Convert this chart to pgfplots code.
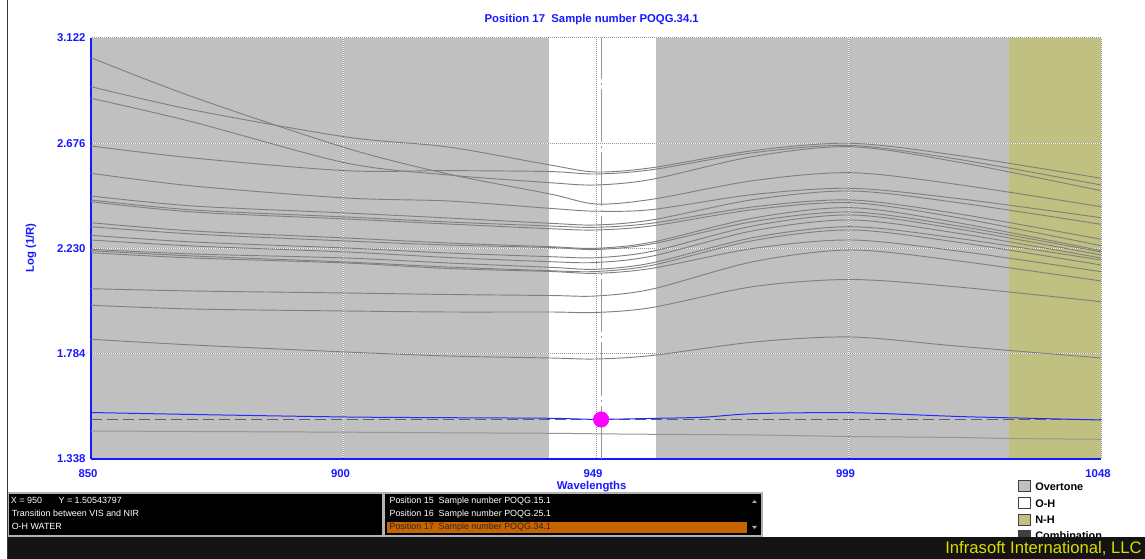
\documentclass[border=0pt]{standalone}
\usepackage{pgfplots}
\pgfplotsset{compat=1.18}
\usepackage{fontspec}
\setmainfont{Liberation Sans}
\definecolor{ovgray}{RGB}{192,192,192}
\definecolor{nhkhaki}{RGB}{192,192,128}
\definecolor{curvegray}{RGB}{128,128,128}
\definecolor{lightcurve}{RGB}{150,150,150}
\definecolor{gridgray}{RGB}{150,150,150}
\definecolor{uiblue}{RGB}{24,24,255}
\definecolor{selblue}{RGB}{40,40,255}
\definecolor{panelorange}{RGB}{200,100,0}
\definecolor{barblack}{RGB}{20,20,20}
\definecolor{infyellow}{RGB}{220,220,0}
\definecolor{combdark}{RGB}{64,64,64}
\definecolor{framedark}{RGB}{60,56,52}
\definecolor{cursorgray}{RGB}{96,96,96}
\definecolor{dotmagenta}{RGB}{255,0,255}
\newcommand\blab{\bfseries\fontsize{8.5}{10}\selectfont}
\newcommand\stxt{\fontsize{6.7}{8}\selectfont}
\begin{document}
\begin{tikzpicture}
\begin{axis}[
  at={(68.25pt,75pt)}, anchor=south west,
  scale only axis, width=757.5pt, height=315.75pt,
  xmin=850, xmax=1048, ymin=1.338, ymax=3.122,
  set layers,
  axis x line*=bottom, axis y line*=left,
  axis line style={uiblue, line width=0.9pt, -},
  xtick={850,899.5,949,998.5,1048}, xticklabels={850,900,949,999,1048},
  ytick={1.338,1.784,2.230,2.676,3.122}, yticklabels={1.338,1.784,2.230,2.676,3.122},
  major tick length=0pt,
  tick label style={font=\blab, text=uiblue},
  xticklabel style={anchor=center, yshift=-11.25pt, xshift=-2.25pt},
  yticklabel style={anchor=east, inner sep=0pt, xshift=-4pt},
  grid=major,
  major grid style={white, line width=0.75pt, dash pattern=on 0.75pt off 0.75pt,
     postaction={draw=gridgray, dash pattern=on 0.75pt off 0.75pt, dash phase=0.75pt}},
  spec/.style={curvegray, line width=0.7pt, smooth, mark=none},
]
% spectral regions
\addplot[draw=none, fill=ovgray, on layer=axis background] coordinates {(850,3.122) (939.8,3.122)} \closedcycle;
\addplot[draw=none, fill=white, on layer=axis background] coordinates {(939.8,3.122) (960.8,3.122)} \closedcycle;
\addplot[draw=none, fill=ovgray, on layer=axis background] coordinates {(960.8,3.122) (1030,3.122)} \closedcycle;
\addplot[draw=none, fill=nhkhaki, on layer=axis background] coordinates {(1030,3.122) (1048,3.122)} \closedcycle;
% spectra
\addplot[spec] coordinates {(850,3.0385)(870,2.872)(900,2.6559)(920,2.5457)(940,2.4609)(949,2.4186)(960,2.4385)(980,2.5181)(999,2.5512)(1020,2.5008)(1048,2.4071)};
\addplot[spec] coordinates {(850,2.9156)(870,2.8169)(900,2.7025)(920,2.6601)(940,2.5838)(949,2.5542)(960,2.5724)(980,2.6453)(999,2.6758)(1020,2.6241)(1048,2.5275)};
\addplot[spec] coordinates {(850,2.8665)(870,2.7660)(900,2.5923)(920,2.5415)(940,2.5088)(949,2.4991)(960,2.5232)(980,2.6207)(999,2.6614)(1020,2.5961)(1048,2.4749)};
\addplot[spec] coordinates {(850,2.6643)(870,2.6135)(900,2.5597)(920,2.5600)(940,2.5560)(949,2.5457)(960,2.5639)(980,2.6364)(999,2.6665)(1020,2.6080)(1048,2.4991)};
\addplot[spec] coordinates {(850,2.5487)(870,2.4948)(900,2.4440)(920,2.4313)(940,2.4000)(949,2.3880)(960,2.3950)(980,2.4592)(999,2.4851)(1020,2.4415)(1048,2.3605)};
\addplot[spec] coordinates {(850,2.4525)(870,2.4101)(900,2.3804)(920,2.3592)(940,2.3368)(949,2.3296)(960,2.3512)(980,2.4376)(999,2.4737)(1020,2.4241)(1048,2.3325)};
\addplot[spec] coordinates {(850,2.4355)(870,2.3931)(900,2.3635)(920,2.3423)(940,2.3253)(949,2.3198)(960,2.3372)(980,2.4067)(999,2.4355)(1020,2.3770)(1048,2.2690)};
\addplot[spec] coordinates {(850,2.4283)(870,2.3847)(900,2.3550)(920,2.3338)(940,2.3139)(949,2.3084)(960,2.3258)(980,2.3953)(999,2.4241)(1020,2.3605)(1048,2.2419)};
\addplot[spec] coordinates {(850,2.3393)(870,2.3042)(900,2.2745)(920,2.2533)(940,2.2376)(949,2.2308)(960,2.2567)(980,2.3597)(999,2.4029)(1020,2.3389)(1048,2.2207)};
\addplot[spec] coordinates {(850,2.3224)(870,2.2914)(900,2.2618)(920,2.2448)(940,2.2342)(949,2.2258)(960,2.2495)(980,2.3448)(999,2.3847)(1020,2.3253)(1048,2.2152)};
\addplot[spec] coordinates {(850,2.2859)(870,2.2575)(900,2.2321)(920,2.2109)(940,2.1953)(949,2.1910)(960,2.2181)(980,2.3266)(999,2.3720)(1020,2.3126)(1048,2.2025)};
\addplot[spec] coordinates {(850,2.2660)(870,2.2406)(900,2.2152)(920,2.1919)(940,2.1741)(949,2.1707)(960,2.1978)(980,2.3059)(999,2.3508)(1020,2.2944)(1048,2.1897)};
\addplot[spec] coordinates {(850,2.2266)(870,2.2067)(900,2.1897)(920,2.1686)(940,2.1503)(949,2.1419)(960,2.1690)(980,2.2770)(999,2.3224)(1020,2.2728)(1048,2.1813)};
\addplot[spec] coordinates {(850,2.2207)(870,2.1982)(900,2.1728)(920,2.1516)(940,2.1359)(949,2.1325)(960,2.1588)(980,2.2643)(999,2.3084)(1020,2.2563)(1048,2.1601)};
\addplot[spec] coordinates {(850,2.2122)(870,2.1897)(900,2.1686)(920,2.1452)(940,2.1325)(949,2.1249)(960,2.1461)(980,2.2308)(999,2.2660)(1020,2.2190)(1048,2.1317)};
\addplot[spec] coordinates {(850,2.0596)(870,2.0499)(900,2.0414)(920,2.0351)(940,2.0308)(949,2.0287)(960,2.0580)(980,2.1749)(999,2.2236)(1020,2.1774)(1048,2.0923)};
\addplot[spec] coordinates {(850,1.9893)(870,1.9736)(900,1.9651)(920,1.9609)(940,1.9609)(949,1.9588)(960,1.9800)(980,2.0690)(999,2.0986)(1020,2.0668)(1048,2.0046)};
\addplot[spec] coordinates {(850,1.8452)(870,1.8211)(900,1.7914)(920,1.7745)(940,1.7660)(949,1.7618)(960,1.7766)(980,1.8338)(999,1.8550)(1020,1.8160)(1048,1.7660)};
\addplot[lightcurve, line width=0.75pt, smooth] coordinates {(850,1.4567)(870,1.4545)(900,1.4516)(920,1.4490)(940,1.4469)(949,1.4448)(960,1.4427)(980,1.4397)(999,1.4333)(1020,1.4291)(1030,1.4249)(1048,1.4215)};
% cursor lines
\addplot[cursorgray, line width=0.75pt, dash pattern=on 8pt off 4pt] coordinates {(850,1.50543797) (1048,1.50543797)};
\addplot[gridgray, line width=0.75pt, dash pattern=on 40pt off 3pt on 1.5pt off 3pt] coordinates {(950,1.338) (950,3.122)};
% selected spectrum
\addplot[selblue, line width=0.75pt, smooth] coordinates {(850,1.5350)(870,1.5266)(900,1.5160)(920,1.5130)(940,1.5105)(949,1.5060)(960,1.5100)(970,1.5150)(980,1.5300)(999,1.5342)(1020,1.5181)(1030,1.5126)(1048,1.5033)};
\addplot[only marks, mark=*, mark size=5.8pt, draw=dotmagenta, fill=dotmagenta] coordinates {(950,1.50543797)};
\end{axis}
\begin{scope}[x=0.75pt, y=-0.75pt, shift={(0pt,419.25pt)}]
  % frame line
  \draw[framedark, line width=0.9pt] (7.6,0) -- (7.6,559);
  % titles
  \node[font=\blab, text=uiblue] at (591.7,20) {Position 17\ \ Sample number POQG.34.1};
  \node[font=\blab, text=uiblue, rotate=90] at (31,248) {Log (1/R)};
  \node[font=\blab, text=uiblue] at (591.7,486.5) {Wavelengths};
  % status panel
  \draw[fill=black, draw=gray!60, line width=0.9pt] (8.5,493) rectangle (383,536);
  \node[anchor=west, inner sep=0pt, text=white, font=\stxt] at (10.7,500.7) {X = 950};
  \node[anchor=west, inner sep=0pt, text=white, font=\stxt] at (58.3,500.7) {Y = 1.50543797};
  \node[anchor=west, inner sep=0pt, text=white, font=\stxt] at (11.5,513.7) {Transition between VIS and NIR};
  \node[anchor=west, inner sep=0pt, text=white, font=\stxt] at (11.5,526.7) {O-H WATER};
  % list box
  \draw[fill=black, draw=gray!60, line width=0.9pt] (384,493) rectangle (762,536);
  \fill[panelorange] (387,522) rectangle (747,533);
  \node[anchor=west, inner sep=0pt, text=white, font=\stxt] at (389.3,500.7) {Position 15\ \ Sample number POQG.15.1};
  \node[anchor=west, inner sep=0pt, text=white, font=\stxt] at (389.3,513.7) {Position 16\ \ Sample number POQG.25.1};
  \node[anchor=west, inner sep=0pt, text=black!85, font=\stxt] at (389.3,527.3) {Position 17\ \ Sample number POQG.34.1};
  \fill[gray!70] (752,503) -- (757,503) -- (754.5,500) -- cycle;
  \fill[gray!70] (752,526) -- (757,526) -- (754.5,529) -- cycle;
  % legend
  \draw[fill=ovgray, draw=combdark, line width=0.75pt] (1018.5,481) rectangle (1030,492);
  \draw[fill=white, draw=combdark, line width=0.75pt] (1018.5,498) rectangle (1030,509);
  \draw[fill=nhkhaki, draw=combdark, line width=0.75pt] (1018.5,514.5) rectangle (1030,525.5);
  \draw[fill=combdark, draw=combdark, line width=0.75pt] (1018.5,530.5) rectangle (1030,541.5);
  \node[anchor=west, inner sep=0pt, font=\bfseries\fontsize{8.2}{10}\selectfont] at (1035,486.7) {Overtone};
  \node[anchor=west, inner sep=0pt, font=\bfseries\fontsize{8.2}{10}\selectfont] at (1035,503.3) {O-H};
  \node[anchor=west, inner sep=0pt, font=\bfseries\fontsize{8.2}{10}\selectfont] at (1035,520) {N-H};
  \node[anchor=west, inner sep=0pt, font=\bfseries\fontsize{8.2}{10}\selectfont] at (1035,536) {Combination};
  % bottom bar
  \fill[barblack] (8,537.5) rectangle (1145,559);
  \node[anchor=east, inner sep=0pt, text=infyellow, font=\fontsize{12.5}{14}\selectfont] at (1142,548.3) {Infrasoft International, LLC};
\end{scope}
\pgfresetboundingbox
\useasboundingbox (0,0) rectangle (858.75pt,419.25pt);
\end{tikzpicture}
\end{document}
